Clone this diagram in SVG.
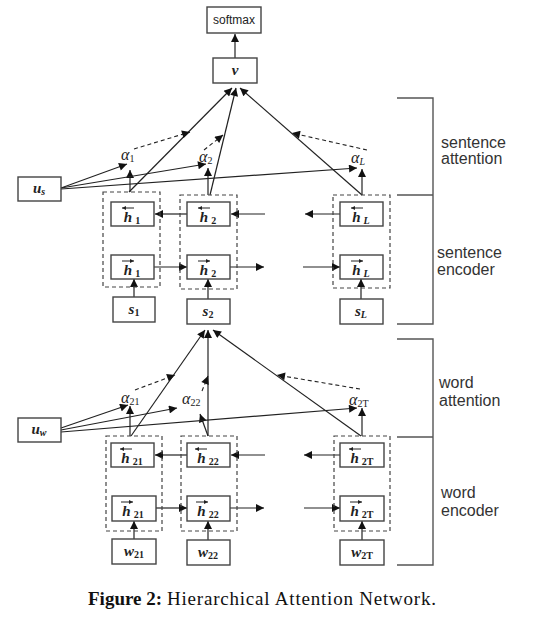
<svg xmlns="http://www.w3.org/2000/svg" width="548" height="628" viewBox="0 0 548 628">
<style>
.box{fill:#fff;stroke:#444;stroke-width:1.4}
.grp{fill:none;stroke:#444;stroke-width:1.2;stroke-dasharray:4,3}
.ln{fill:none;stroke:#222;stroke-width:1.2}
.dl{fill:none;stroke:#222;stroke-width:1.1;stroke-dasharray:4,3}
.br{fill:none;stroke:#555;stroke-width:1.4}
.m{font-family:"Liberation Serif",serif;font-style:italic;font-weight:bold;font-size:15px;fill:#222;text-anchor:middle}
.a{font-family:"Liberation Serif",serif;font-style:italic;font-size:16px;fill:#222}
.sub{font-size:10px;font-style:normal}
.subi{font-size:10px}
.lab{font-family:"Liberation Sans",Arial,sans-serif;font-size:16px;fill:#333}
.sm{font-family:"Liberation Sans",Arial,sans-serif;font-size:12px;fill:#222;text-anchor:middle}
.ov{fill:none;stroke:#222;stroke-width:1}
.cap{font-family:"Liberation Serif","Times New Roman",serif;font-size:19px;fill:#111}
</style>
<defs>
<marker id="ah" viewBox="0 0 10 10" refX="10" refY="5" markerWidth="10" markerHeight="8" markerUnits="userSpaceOnUse" orient="auto"><path d="M0,0 L10,5 L0,10 z" fill="#111"/></marker>
<marker id="sh" viewBox="0 0 10 10" refX="10" refY="5" markerWidth="4" markerHeight="4" markerUnits="userSpaceOnUse" orient="auto"><path d="M0,0 L10,5 L0,10 z" fill="#222"/></marker>
</defs>

<g id="connectors">
<path class="ln" marker-end="url(#ah)" d="M235,58 L235,34"/>
<path class="ln" marker-end="url(#ah)" d="M130,192 L130,170"/>
<path class="ln" marker-end="url(#ah)" d="M129,192 L232,88"/>
<path class="dl" marker-end="url(#ah)" d="M134,149 L190,132"/>
<path class="ln" marker-end="url(#ah)" d="M208,195 L208,168"/>
<path class="ln" marker-end="url(#ah)" d="M210,195 L236,88"/>
<path class="dl" marker-end="url(#ah)" d="M204,150 L223,135"/>
<path class="ln" marker-end="url(#ah)" d="M362,195 L362,169"/>
<path class="ln" marker-end="url(#ah)" d="M362,195 L240,88"/>
<path class="dl" marker-end="url(#ah)" d="M367,150 L292,133"/>
<path class="ln" marker-end="url(#ah)" d="M61,188 L127,164"/>
<path class="ln" marker-end="url(#ah)" d="M61,188 L206,164"/>
<path class="ln" marker-end="url(#ah)" d="M61,189 L357,168"/>
<path class="ln" marker-end="url(#ah)" d="M187,214 L155,214"/>
<path class="ln" marker-end="url(#ah)" d="M265,214 L231,214"/>
<path class="ln" marker-end="url(#ah)" d="M340,214 L305,214"/>
<path class="ln" marker-end="url(#ah)" d="M154,267 L187,267"/>
<path class="ln" marker-end="url(#ah)" d="M230,267 L264,267"/>
<path class="ln" marker-end="url(#ah)" d="M303,267 L340,267"/>
<path class="ln" marker-end="url(#ah)" d="M134,297 L134,279"/>
<path class="ln" marker-end="url(#ah)" d="M208,299 L208,279"/>
<path class="ln" marker-end="url(#ah)" d="M361,299 L361,279"/>
<path class="ln" marker-end="url(#ah)" d="M130,436 L130,406"/>
<path class="ln" marker-end="url(#ah)" d="M131,436 L205,330"/>
<path class="dl" marker-end="url(#ah)" d="M135,390 L175,375"/>
<path class="ln" marker-end="url(#ah)" d="M208,436 L200,414"/>
<path class="ln" marker-end="url(#ah)" d="M208,436 L208,330"/>
<path class="dl" marker-end="url(#ah)" d="M202,391 L208,376"/>
<path class="ln" marker-end="url(#ah)" d="M362,436 L362,408"/>
<path class="ln" marker-end="url(#ah)" d="M361,436 L213,330"/>
<path class="dl" marker-end="url(#ah)" d="M360,389 L277,375"/>
<path class="ln" marker-end="url(#ah)" d="M61,428 L128,405"/>
<path class="ln" marker-end="url(#ah)" d="M61,430 L177,408"/>
<path class="ln" marker-end="url(#ah)" d="M61,432 L357,408"/>
<path class="ln" marker-end="url(#ah)" d="M187,455 L155,455"/>
<path class="ln" marker-end="url(#ah)" d="M265,455 L231,455"/>
<path class="ln" marker-end="url(#ah)" d="M340,455 L304,455"/>
<path class="ln" marker-end="url(#ah)" d="M156,508 L187,508"/>
<path class="ln" marker-end="url(#ah)" d="M230,508 L264,508"/>
<path class="ln" marker-end="url(#ah)" d="M304,508 L340,508"/>
<path class="ln" marker-end="url(#ah)" d="M134,539 L134,521"/>
<path class="ln" marker-end="url(#ah)" d="M208,540 L208,521"/>
<path class="ln" marker-end="url(#ah)" d="M362,540 L362,521"/>
</g>

<g id="brackets">
<path class="br" d="M397,98 H433 V324 H397 M397,195 H433"/>
<path class="br" d="M397,339 H433 V565 H397 M397,437 H433"/>
<text class="lab" x="441" y="148">sentence</text>
<text class="lab" x="441" y="164">attention</text>
<text class="lab" x="437" y="258">sentence</text>
<text class="lab" x="437" y="275">encoder</text>
<text class="lab" x="439" y="388">word</text>
<text class="lab" x="439" y="406">attention</text>
<text class="lab" x="441" y="498">word</text>
<text class="lab" x="441" y="516">encoder</text>
</g>

<g id="softmax"><rect class="box" x="207" y="7" width="54" height="26"/><text class="sm" x="234" y="24">softmax</text></g>
<g id="v"><rect class="box" x="213" y="58" width="44" height="25"/><text class="m" x="235" y="75">v</text></g>

<g id="alpha1"><text class="a" x="121" y="160">α<tspan class="sub" dy="2">1</tspan></text></g>
<g id="alpha2"><text class="a" x="199" y="162">α<tspan class="sub" dy="2">2</tspan></text></g>
<g id="alphaL"><text class="a" x="351" y="163">α<tspan class="subi" dy="2">L</tspan></text></g>
<g id="us"><rect class="box" x="18" y="177" width="43" height="24"/><text class="m" x="39" y="193">u<tspan class="subi" dy="2">s</tspan></text></g>

<g id="col1"><rect class="grp" x="103" y="192" width="57" height="95"/></g>
<g id="col2"><rect class="grp" x="180" y="195" width="57" height="94"/></g>
<g id="colL"><rect class="grp" x="333" y="195" width="57" height="93"/></g>

<g id="hb1"><rect class="box" x="111" y="202" width="43" height="24"/><path class="ov" marker-end="url(#sh)" d="M134,208 L122,208"/><text class="m" x="132" y="222">h<tspan class="sub" dx="3" dy="2">1</tspan></text></g>
<g id="hf1"><rect class="box" x="111" y="255" width="43" height="24"/><path class="ov" marker-end="url(#sh)" d="M122,261 L134,261"/><text class="m" x="132" y="275">h<tspan class="sub" dx="3" dy="2">1</tspan></text></g>
<g id="s1"><rect class="box" x="113" y="297" width="42" height="25"/><text class="m" x="134" y="314">s<tspan class="sub" dy="2">1</tspan></text></g>

<g id="hb2"><rect class="box" x="187" y="202" width="43" height="24"/><path class="ov" marker-end="url(#sh)" d="M210,208 L198,208"/><text class="m" x="208" y="222">h<tspan class="sub" dx="3" dy="2">2</tspan></text></g>
<g id="hf2"><rect class="box" x="187" y="255" width="43" height="24"/><path class="ov" marker-end="url(#sh)" d="M198,261 L210,261"/><text class="m" x="208" y="275">h<tspan class="sub" dx="3" dy="2">2</tspan></text></g>
<g id="s2"><rect class="box" x="187" y="299" width="43" height="25"/><text class="m" x="208" y="316">s<tspan class="sub" dy="2">2</tspan></text></g>

<g id="hbL"><rect class="box" x="340" y="202" width="43" height="24"/><path class="ov" marker-end="url(#sh)" d="M363,208 L351,208"/><text class="m" x="361" y="222">h<tspan class="subi" dx="3" dy="2">L</tspan></text></g>
<g id="hfL"><rect class="box" x="340" y="255" width="43" height="24"/><path class="ov" marker-end="url(#sh)" d="M351,261 L363,261"/><text class="m" x="361" y="275">h<tspan class="subi" dx="3" dy="2">L</tspan></text></g>
<g id="sL"><rect class="box" x="340" y="299" width="43" height="25"/><text class="m" x="361" y="316">s<tspan class="subi" dy="2">L</tspan></text></g>

<g id="alpha21"><text class="a" x="121" y="403">α<tspan class="sub" dy="2">21</tspan></text></g>
<g id="alpha22"><text class="a" x="182" y="404">α<tspan class="sub" dy="2">22</tspan></text></g>
<g id="alpha2T"><text class="a" x="349" y="405">α<tspan class="sub" dy="2">2T</tspan></text></g>
<g id="uw"><rect class="box" x="18" y="418" width="43" height="24"/><text class="m" x="39" y="434">u<tspan class="subi" dy="2">w</tspan></text></g>

<g id="wcol1"><rect class="grp" x="106" y="436" width="56" height="95"/></g>
<g id="wcol2"><rect class="grp" x="181" y="436" width="56" height="95"/></g>
<g id="wcolT"><rect class="grp" x="334" y="436" width="56" height="95"/></g>

<g id="hb21"><rect class="box" x="111" y="443" width="43" height="24"/><path class="ov" marker-end="url(#sh)" d="M132,449 L120,449"/><text class="m" x="132" y="463">h<tspan class="sub" dx="3" dy="2">21</tspan></text></g>
<g id="hf21"><rect class="box" x="112" y="496" width="44" height="25"/><path class="ov" marker-end="url(#sh)" d="M121,502 L133,502"/><text class="m" x="133" y="516">h<tspan class="sub" dx="3" dy="2">21</tspan></text></g>
<g id="w21"><rect class="box" x="112" y="539" width="44" height="25"/><text class="m" x="134" y="556">w<tspan class="sub" dy="2">21</tspan></text></g>

<g id="hb22"><rect class="box" x="187" y="443" width="43" height="24"/><path class="ov" marker-end="url(#sh)" d="M207,449 L195,449"/><text class="m" x="208" y="463">h<tspan class="sub" dx="3" dy="2">22</tspan></text></g>
<g id="hf22"><rect class="box" x="187" y="496" width="43" height="25"/><path class="ov" marker-end="url(#sh)" d="M196,502 L208,502"/><text class="m" x="208" y="516">h<tspan class="sub" dx="3" dy="2">22</tspan></text></g>
<g id="w22"><rect class="box" x="187" y="540" width="43" height="25"/><text class="m" x="208" y="557">w<tspan class="sub" dy="2">22</tspan></text></g>

<g id="hb2T"><rect class="box" x="340" y="443" width="44" height="24"/><path class="ov" marker-end="url(#sh)" d="M361,449 L349,449"/><text class="m" x="362" y="463">h<tspan class="sub" dx="3" dy="2">2T</tspan></text></g>
<g id="hf2T"><rect class="box" x="340" y="496" width="44" height="25"/><path class="ov" marker-end="url(#sh)" d="M350,502 L362,502"/><text class="m" x="362" y="516">h<tspan class="sub" dx="3" dy="2">2T</tspan></text></g>
<g id="w2T"><rect class="box" x="340" y="540" width="44" height="25"/><text class="m" x="362" y="557">w<tspan class="sub" dy="2">2T</tspan></text></g>

<g id="caption">
<text class="cap" x="88" y="605" font-weight="bold">Figure 2:</text>
<text class="cap" x="167" y="605" textLength="269" lengthAdjust="spacing">Hierarchical Attention Network.</text>
</g>
</svg>
